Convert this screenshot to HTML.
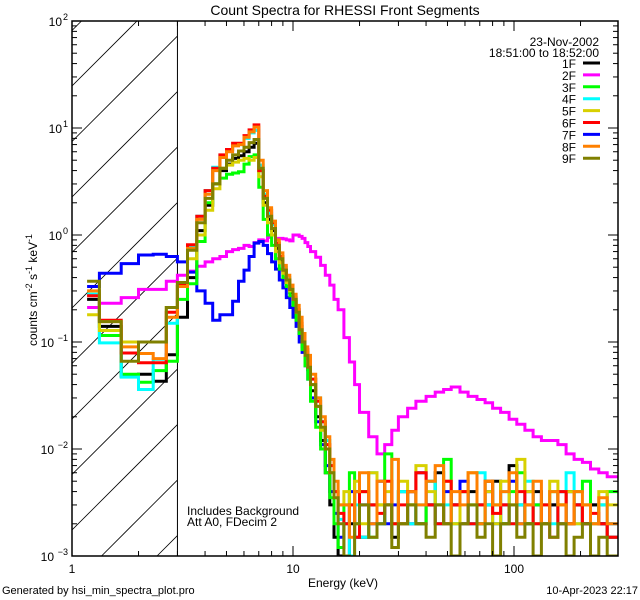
<!DOCTYPE html>
<html><head><meta charset="utf-8"><style>
html,body{margin:0;padding:0;background:#fff;width:640px;height:600px;overflow:hidden;position:relative;}
svg{display:block;position:absolute;left:0;top:0;font-family:"Liberation Sans",sans-serif;}
</style>
<script>
const edges=[1.17,1.33,1.67,2,2.33,2.67,3,3.33,3.67,4,4.33,4.67,5,5.33,5.67,6,6.33,6.67,7,7.33,7.67,8,8.33,8.67,9,9.33,9.67,10,10.33,10.67,11,11.33,11.67,12,12.67,13.33,14,14.67,15.33,16,17,18,19,20,22,24,26,28,30,33,36,40,44,48,52,57,62,68,74,80,87,95,103,112,122,133,145,158,172,187,204,222,242,264,295];
const seriesNames=["1F","2F","3F","4F","5F","6F","7F","8F","9F"];
const seriesColors=["#000000","#ff00ff","#00ff00","#00ffff","#d8d000","#ff0000","#0000ff","#ff8000","#808000"];
const s1F=[0.25,0.14,0.048,0.05,0.043,0.076, 0.17,0.4,1.1,1.9,3.0,4.0,4.6,5.2,5.5,6.0,6.6,7.2,4.0,2.0,1.4,1.1,0.75,0.58,0.45,0.36,0.29, 0.24,0.17,0.12,0.09,0.07,0.055,0.035,0.02,0.012,0.006,0.003,0.0015,0.001, 0.0008,0.002,0.004,0.0015,0.003,0.002,0.003,0.0015,0.002,0.004,0.002,0.003,0.006,0.002,0.003,0.002,0.004,0.002,0.003,0.005,0.002,0.007,0.003,0.002,0.004,0.002,0.003,0.002,0.004,0.003,0.002,0.003,0.002,0.0015];
const s2F=[0.21,0.23,0.26,0.31,0.31,0.37, 0.42,0.46,0.51,0.56,0.6,0.63,0.7,0.73,0.75,0.8,0.78,0.85,0.9,0.88,0.95,1.0,0.93,0.93,0.92,0.9,0.88, 1.0,1.0,0.97,0.93,0.85,0.78,0.7,0.62,0.52,0.42,0.34,0.25,0.2, 0.11,0.065,0.04,0.022,0.013,0.009,0.011,0.015,0.02,0.024,0.028,0.031,0.034,0.036,0.038,0.034,0.031,0.029,0.027,0.024,0.022,0.019,0.017,0.015,0.013,0.012,0.012,0.011,0.009,0.008,0.0075,0.0065,0.006,0.0055];
const s3F=[0.28,0.115,0.05,0.042,0.054,0.066, 0.25,0.35,0.87,2.0,3.0,3.4,3.7,3.8,3.9,4.6,5.4,5.6,2.8,1.4,1.0,0.8,0.6,0.48,0.4,0.33,0.27, 0.22,0.16,0.12,0.085,0.06,0.045,0.028,0.016,0.01,0.006,0.0035,0.002,0.0012, 0.003,0.006,0.002,0.004,0.0015,0.003,0.009,0.002,0.004,0.003,0.002,0.005,0.003,0.008,0.002,0.004,0.003,0.002,0.005,0.003,0.002,0.004,0.006,0.002,0.003,0.002,0.004,0.003,0.002,0.004,0.005,0.002,0.003,0.004];
const s4F=[0.28,0.098,0.047,0.036,0.069,0.15, 0.33,0.78,1.5,2.6,4.3,5.5,6.2,6.9,7.0,8.0,9.0,9.5,4.5,2.4,1.6,1.25,0.82,0.62,0.5,0.4,0.33, 0.27,0.2,0.14,0.1,0.08,0.065,0.045,0.03,0.018,0.012,0.007,0.004,0.0022, 0.002,0.001,0.003,0.0015,0.006,0.002,0.003,0.002,0.004,0.002,0.003,0.005,0.002,0.003,0.002,0.004,0.002,0.006,0.003,0.002,0.004,0.002,0.003,0.005,0.002,0.003,0.002,0.004,0.006,0.002,0.003,0.002,0.003,0.002];
const s5F=[0.18,0.128,0.1,0.1,0.1,0.21, 0.33,0.6,1.0,1.7,2.7,4.2,4.5,4.8,5.0,5.2,5.0,5.3,3.5,1.9,1.3,1.0,0.7,0.55,0.44,0.36,0.3, 0.25,0.19,0.14,0.1,0.08,0.06,0.04,0.025,0.015,0.01,0.006,0.004,0.003, 0.004,0.003,0.005,0.002,0.006,0.003,0.004,0.002,0.005,0.003,0.007,0.004,0.003,0.005,0.002,0.004,0.006,0.003,0.004,0.002,0.005,0.003,0.008,0.004,0.002,0.003,0.005,0.003,0.004,0.002,0.003,0.002,0.004,0.003];
const s6F=[0.27,0.16,0.079,0.064,0.064,0.19, 0.35,0.81,1.5,2.6,4.2,5.6,6.3,7.2,7.2,8.5,9.6,10.7,4.0,2.3,1.7,1.3,0.84,0.63,0.47,0.38,0.31, 0.26,0.2,0.15,0.11,0.085,0.07,0.045,0.028,0.018,0.011,0.007,0.004,0.0025, 0.002,0.003,0.0015,0.004,0.003,0.0025,0.005,0.002,0.003,0.004,0.006,0.003,0.002,0.005,0.003,0.004,0.002,0.003,0.005,0.0025,0.003,0.002,0.004,0.003,0.002,0.003,0.0015,0.004,0.002,0.003,0.002,0.0025,0.002,0.0015];
const s7F=[0.33,0.44,0.54,0.65,0.66,0.63, 0.56,0.45,0.3,0.23,0.16,0.18,0.18,0.24,0.37,0.47,0.63,0.84,0.87,0.8,0.67,0.56,0.48,0.38,0.32,0.26,0.21, 0.17,0.14,0.1,0.08,0.06,0.045,0.03,0.018,0.011,0.007,0.004,0.0025,0.0015, 0.002,0.004,0.0015,0.003,0.002,0.005,0.002,0.003,0.004,0.002,0.006,0.003,0.002,0.004,0.003,0.005,0.002,0.003,0.004,0.002,0.003,0.005,0.002,0.004,0.003,0.002,0.003,0.004,0.002,0.003,0.002,0.003,0.002,0.002];
const s8F=[0.3,0.155,0.09,0.078,0.07,0.17, 0.33,0.75,1.4,2.4,4.0,5.3,6.0,6.8,7.0,8.2,9.2,10.2,5.0,2.6,1.8,1.35,0.9,0.68,0.52,0.42,0.34, 0.28,0.22,0.17,0.12,0.09,0.075,0.05,0.03,0.02,0.013,0.008,0.005,0.003, 0.003,0.0015,0.004,0.006,0.002,0.005,0.003,0.008,0.002,0.004,0.003,0.005,0.007,0.002,0.004,0.003,0.006,0.002,0.005,0.003,0.004,0.006,0.002,0.003,0.005,0.002,0.004,0.003,0.002,0.004,0.003,0.002,0.0035,0.002];
const s9F=[0.37,0.155,0.066,0.1,0.1,0.21, 0.36,0.72,1.3,2.2,3.0,4.2,5.0,5.6,6.1,6.6,7.3,7.8,4.2,2.2,1.5,1.15,0.8,0.6,0.47,0.38,0.31, 0.25,0.19,0.13,0.1,0.075,0.058,0.04,0.025,0.016,0.01,0.006,0.0035,0.002, 0.001,0.0008,0.002,0.003,0.0015,0.002,0.003,0.0012,0.002,0.003,0.002,0.0015,0.003,0.002,0.001,0.002,0.003,0.0015,0.002,0.001,0.002,0.003,0.0015,0.002,0.001,0.002,0.0015,0.002,0.001,0.0015,0.002,0.001,0.0015,0.001];
const xTickLabels=["1","10","100"];
const yTickExponents=["2","1","0","-1","-2","-3"];

const NS="http://www.w3.org/2000/svg";
const X0=72,X1=618,Y0=21,Y1=556;
const xDec=221, yDec=(Y1-Y0)/5;
function xs(e){return X0+Math.log10(e)*xDec;}
function ys(v){return Y0+(2-Math.log10(Math.max(v,0.0009)))*yDec;}
function mk(tag,attrs,parent){const el=document.createElementNS(NS,tag);for(const k in attrs)el.setAttribute(k,attrs[k]);parent.appendChild(el);return el;}

function build(){
const hatch=document.getElementById('hatch');
const hx1=xs(3);
for(let k=-3;k<14;k++){
  const c=86+k*55.5;
  const xa=Math.max(X0,X0+c-Y1), xb=Math.min(hx1,X0+c-Y0);
  if(xb<=xa)continue;
  const l=mk('line',{x1:xa,y1:c-(xa-X0),x2:xb,y2:c-(xb-X0),stroke:'#000','stroke-width':0.8},hatch);
  
  
}
const vl=mk('line',{x1:hx1,y1:Y0,x2:hx1,y2:Y1,stroke:'#000','stroke-width':1},hatch);



const allSeries=[s1F,s2F,s3F,s4F,s5F,s6F,s7F,s8F,s9F];
const drawOrder=[1,6,0,2,3,4,5,7,8];
const sg=document.getElementById('series');
drawOrder.forEach(i=>{
  const vals=allSeries[i];
  const n=Math.min(vals.length,edges.length-1);
  let d='M'+xs(edges[0]).toFixed(1)+' '+ys(vals[0]).toFixed(1);
  for(let j=0;j<n;j++){
    if(j>0)d+=' V'+ys(vals[j]).toFixed(1);
    d+=' H'+xs(edges[j+1]).toFixed(1);
  }
  const p=mk('path',{d:d,fill:'none',stroke:seriesColors[i],'stroke-width':3,'stroke-linejoin':'miter'},sg);
  
  
});

const ax=document.getElementById('axes');
const frame=mk('rect',{x:X0,y:Y0,width:X1-X0,height:Y1-Y0,fill:'none',stroke:'#000','stroke-width':1.5},ax);


for(let dec=0;dec<3;dec++){
  for(let m=1;m<10;m++){
    const e=Math.pow(10,dec)*m;
    const x=xs(e);
    if(x>X1)break;
    const len=m===1?10:5;
    mk('line',{x1:x,y1:Y1,x2:x,y2:Y1-len,stroke:'#000','stroke-width':1},ax);
    mk('line',{x1:x,y1:Y0,x2:x,y2:Y0+len,stroke:'#000','stroke-width':1},ax);
  }
}
xTickLabels.forEach((t,i)=>{
  const tx=mk('text',{x:xs(Math.pow(10,i)),y:573,'font-size':12,'text-anchor':'middle'},ax);
  tx.textContent=t;
  
  
});
for(let ex=-3;ex<2;ex++){
  for(let m=1;m<10;m++){
    const y=Y0+(2-Math.log10(Math.pow(10,ex)*m))*yDec;
    const len=m===1?10:5;
    mk('line',{x1:X0,y1:y,x2:X0+len,y2:y,stroke:'#000','stroke-width':1},ax);
    mk('line',{x1:X1,y1:y,x2:X1-len,y2:y,stroke:'#000','stroke-width':1},ax);
  }
}
yTickExponents.forEach(t=>{
  const y=Y0+(2-(+t))*yDec;
  const tx=mk('text',{x:X0-4-(t.length>1?14:6),y:y+5,'font-size':12,'text-anchor':'end'},ax);
  tx.textContent='10';
  
  
  const sup=mk('text',{x:X0-4,y:y-1,'font-size':9,'text-anchor':'end'},ax);
  sup.textContent=t.replace('-','\u2212');
  
  
});
const lg=document.getElementById('legend');
seriesNames.forEach((nm,i)=>{
  const y=67+i*11.9;
  const t=mk('text',{x:576,y:y+1,'font-size':12,'text-anchor':'end'},lg);
  t.textContent=nm;
  
  
  const l=mk('line',{x1:583,y1:y-4,x2:600,y2:y-4,stroke:seriesColors[i],'stroke-width':3},lg);
  
  
});
}
document.addEventListener('DOMContentLoaded',build);
</script>
</head><body>
<svg id="chart" width="640" height="600" viewBox="0 0 640 600" xmlns="http://www.w3.org/2000/svg">
<rect width="640" height="600" fill="#fff"/>
<defs><clipPath id="plotclip"><rect x="72" y="21" width="546" height="535"/></clipPath></defs>
<text x="345" y="15" font-size="14" text-anchor="middle">Count Spectra for RHESSI Front Segments</text>
<g id="hatch" clip-path="url(#plotclip)"></g>
<g id="series" clip-path="url(#plotclip)"></g>
<g id="axes"></g>
<text transform="translate(37,290) rotate(-90)" font-size="12" text-anchor="middle">counts cm<tspan baseline-shift="super" font-size="9">-2</tspan> s<tspan baseline-shift="super" font-size="9">-1</tspan> keV<tspan baseline-shift="super" font-size="9">-1</tspan></text>
<text x="343" y="587" font-size="12" text-anchor="middle">Energy (keV)</text>
<text x="599" y="46" font-size="12" text-anchor="end">23-Nov-2002</text>
<text x="599" y="57" font-size="12" text-anchor="end">18:51:00 to 18:52:00</text>
<g id="legend"></g>
<text x="187" y="515" font-size="12">Includes Background</text>
<text x="187" y="526" font-size="12">Att A0, FDecim 2</text>
<text x="2" y="594" font-size="11">Generated by hsi_min_spectra_plot.pro</text>
<text x="638" y="594" font-size="11" text-anchor="end">10-Apr-2023 22:17</text>
</svg>
</body></html>
